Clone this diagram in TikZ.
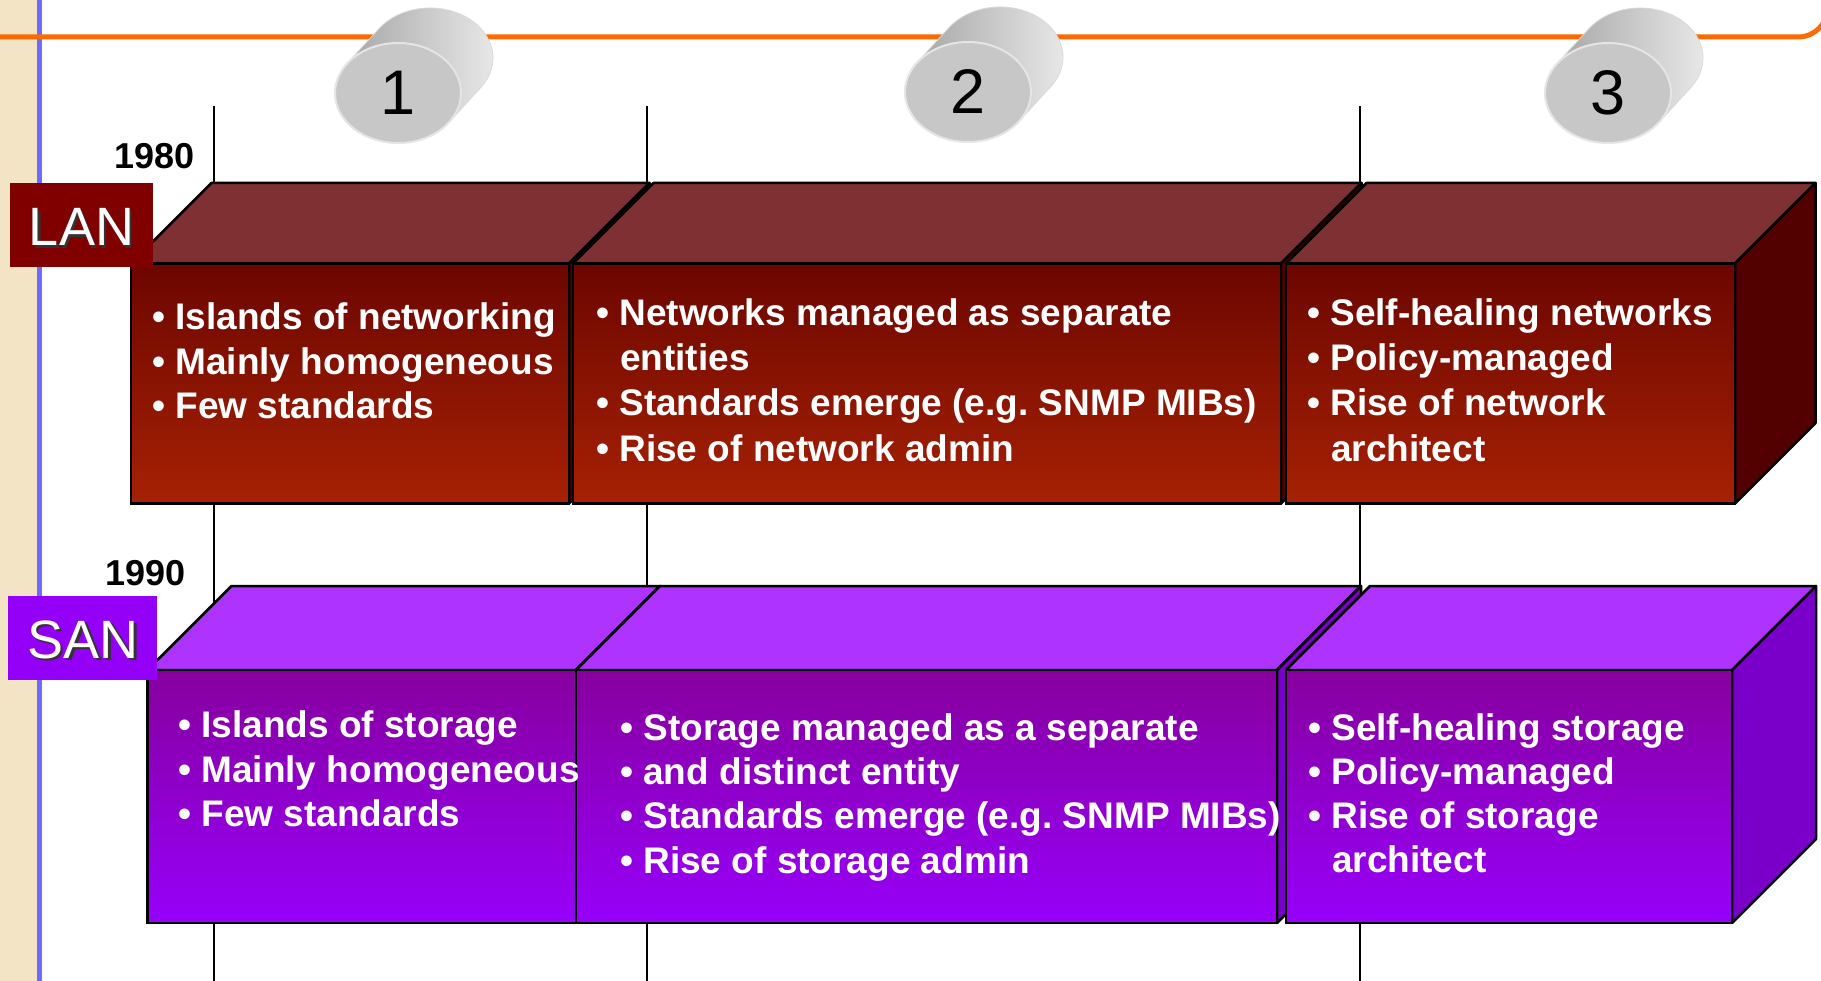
\documentclass[tikz,border=0pt]{standalone}
\usepackage{fontspec}
\setmainfont{Liberation Sans}
\definecolor{cBeige}{HTML}{F4E4C6}
\definecolor{cBlue}{HTML}{6B6BFF}
\definecolor{cOrange}{HTML}{FF6A00}
\definecolor{cLanTop}{HTML}{7F3033}
\definecolor{cLanA}{HTML}{6C0600}
\definecolor{cLanB}{HTML}{A62104}
\definecolor{cLanSide}{HTML}{520000}
\definecolor{cLanLbl}{HTML}{800000}
\definecolor{cSanTop}{HTML}{AE33FF}
\definecolor{cSanA}{HTML}{87009E}
\definecolor{cSanB}{HTML}{9700FA}
\definecolor{cSanSide}{HTML}{7A00C9}
\definecolor{cSanLbl}{HTML}{9400F7}
\newcommand\mycyl[4]{%
  \path[cylbody] (#2-51,#3-29.4) -- ++(32,-35)
     arc[start angle=216, end angle=396, x radius=63, y radius=50]
     -- ++(-32,35)
     arc[start angle=36, end angle=216, x radius=63, y radius=50] -- cycle;
  \path[cylface] (#2,#3) ellipse[x radius=63, y radius=50];
  \node[numtxt] (#1) at (#2,#3) {#4};
}
\newcommand\tbox[6]{%
  \path[#6top] (#1,#3) -- ++(#5,-#5) -- (#2+#5,#3-#5) -- (#2,#3) -- cycle;
  \path[#6side] (#2,#3) -- (#2+#5,#3-#5) -- (#2+#5,#4-#5) -- (#2,#4) -- cycle;
  \path[#6front] (#1,#3) rectangle (#2,#4);
}
\begin{document}
\frenchspacing
\begin{tikzpicture}[x=1pt,y=-1pt,
  tick/.style={draw=black, line width=2pt},
  cylbody/.style={left color=black!38, right color=black!8, draw=black!15, line width=0.8pt},
  cylface/.style={fill=black!22, draw=black!10, line width=2pt},
  numtxt/.style={inner sep=0pt, text=black, font=\fontsize{63}{70}\selectfont},
  lantop/.style={fill=cLanTop, draw=black, line width=2.5pt, line join=round},
  lanside/.style={fill=cLanSide, draw=black, line width=2.5pt, line join=round},
  lanfront/.style={top color=cLanA, bottom color=cLanB, draw=black, line width=2.5pt},
  santop/.style={fill=cSanTop, draw=black, line width=2.5pt, line join=round},
  sanside/.style={fill=cSanSide, draw=black, line width=2.5pt, line join=round},
  sanfront/.style={top color=cSanA, bottom color=cSanB, draw=black, line width=2.5pt},
  txt/.style={anchor=base west, inner sep=0pt, text=white, font=\bfseries\fontsize{37}{44}\selectfont},
  year/.style={anchor=base west, inner sep=0pt, text=black, font=\bfseries\fontsize{36}{40}\selectfont},
  lbltxt/.style={anchor=base, inner sep=0pt, font=\fontsize{54}{60}\selectfont},
  lblbox/.style={inner sep=0pt, outer sep=0pt, minimum width=143pt, minimum height=84pt}
]
\useasboundingbox (0,0) rectangle (1821,981);
\fill[white] (0,0) rectangle (1821,981);
\fill[cBeige] (0,0) rectangle (37,981);
\draw[cBlue, line width=5pt] (39,0) -- (39,981);

% tick lines
\coordinate (t1a) at (214,106); \coordinate (t1b) at (214,981);
\coordinate (t2a) at (647,106); \coordinate (t2b) at (647,981);
\coordinate (t3a) at (1360,106); \coordinate (t3b) at (1360,981);
\draw[tick] (t1a) -- (t1b);
\draw[tick] (t2a) -- (t2b);
\draw[tick] (t3a) -- (t3b);

% orange frame line
\draw[cOrange, line width=5pt] (0,37) -- (1798,37) arc[start angle=90, end angle=0, radius=30];

% cylinders
\mycyl{c1}{398}{93}{1}
\mycyl{c2}{968}{92}{2}
\mycyl{c3}{1608}{93}{3}

% years
\node[year] (y1980) at (114,169) {1980};
\node[year] (y1990) at (105,585) {1990};

% LAN row
\tbox{131}{569}{263.5}{503.5}{80.5}{lan}
\tbox{573}{1281}{263.5}{503.5}{80.5}{lan}
\tbox{1286}{1735}{263.5}{503.5}{80.5}{lan}

% SAN row
\tbox{147.5}{576}{670}{923}{84}{san}
\tbox{576}{1277}{670}{923}{84}{san}
\tbox{1286}{1732}{670}{923}{84}{san}

% labels
\node[lblbox, fill=cLanLbl] (lanbox) at (81.5,225) {};
\node[lbltxt, text=black!80] (lansh) at (84,248.5) {LAN};
\node[lbltxt, text=white] (lan) at (81.5,246) {LAN};
\node[lblbox, fill=cSanLbl, minimum width=149pt] (sanbox) at (82.5,638) {};
\node[lbltxt, text=black!80] (sansh) at (85.5,660.5) {SAN};
\node[lbltxt, text=white] (san) at (83,658) {SAN};

% LAN texts
\node[txt] (l1a) at (152,330) {• Islands of networking};
\node[txt] (l1b) at (152,374.5) {• Mainly homogeneous};
\node[txt] (l1c) at (152,419) {• Few standards};

\node[txt] (l2a) at (596,326) {• Networks managed as separate};
\node[txt] (l2b) at (620,371) {entities};
\node[txt] (l2c) at (596,416) {• Standards emerge (e.g. SNMP MIBs)};
\node[txt] (l2d) at (596,461) {• Rise of network admin};

\node[txt] (l3a) at (1307,326) {• Self-healing networks};
\node[txt] (l3b) at (1307,371) {• Policy-managed};
\node[txt] (l3c) at (1307,416) {• Rise of network};
\node[txt] (l3d) at (1331,461) {architect};

% SAN texts
\node[txt] (s1a) at (178,737) {• Islands of storage};
\node[txt] (s1b) at (178,782) {• Mainly homogeneous};
\node[txt] (s1c) at (178,826) {• Few standards};

\node[txt] (s2a) at (620,740) {• Storage managed as a separate};
\node[txt] (s2b) at (620,784) {• and distinct entity};
\node[txt] (s2c) at (620,828) {• Standards emerge (e.g. SNMP MIBs)};
\node[txt] (s2d) at (620,873) {• Rise of storage admin};

\node[txt] (s3a) at (1308,740) {• Self-healing storage};
\node[txt] (s3b) at (1308,784) {• Policy-managed};
\node[txt] (s3c) at (1308,828) {• Rise of storage};
\node[txt] (s3d) at (1332,872) {architect};
\end{tikzpicture}
\end{document}
